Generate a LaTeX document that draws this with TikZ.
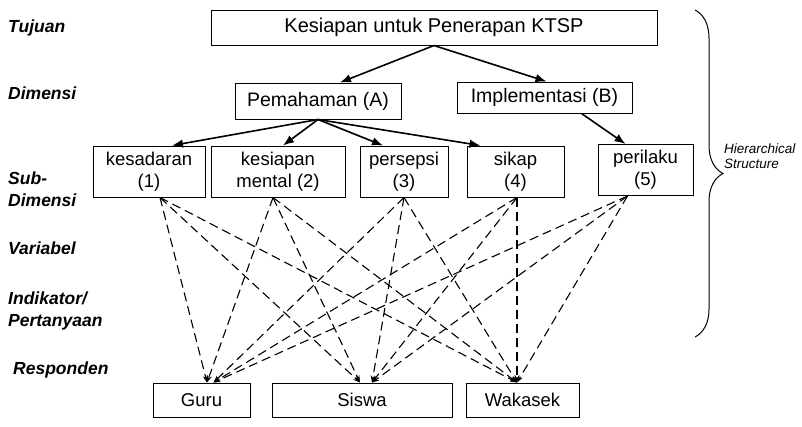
\documentclass[tikz,border=0pt]{standalone}
\usepackage{fontspec}
\setmainfont{Liberation Sans}
\usetikzlibrary{arrows.meta,decorations.pathreplacing}

\begin{document}
\begin{tikzpicture}
  [x=1pt, y=-1pt,
   every node/.style={inner sep=0pt, font=\fontsize{18.5}{22}\selectfont},
   box/.style={draw, line width=1pt, align=center},
   bigbox/.style={box, font=\fontsize{19.5}{22}\selectfont},
   layer/.style={anchor=west, align=left, font=\fontsize{17.5}{22.5}\bfseries\itshape\selectfont},
   solidarr/.style={line width=1.6pt, -{Latex[length=11pt,width=8.5pt]}},
   dasharr/.style={line width=1.1pt, dash pattern=on 9pt off 5pt, -{Stealth[length=7pt,width=5pt]}}]

  \useasboundingbox (0,0) rectangle (802,426);

  \node[layer] (tujuan) at (8,28) {Tujuan};
  \node[layer] (dimensi) at (8,93) {Dimensi};
  \node[layer] (subdim) at (8,189) {Sub-\\Dimensi};
  \node[layer] (variabel) at (8,248) {Variabel};
  \node[layer] (indikator) at (8,311) {Indikator/\\Pertanyaan};
  \node[layer] (responden) at (13,370) {Responden};

  \node[bigbox, minimum width=446pt, minimum height=35pt, font=\fontsize{20}{22}\selectfont] (goal) at (434,27.5) {Kesiapan untuk Penerapan KTSP};

  \node[bigbox, minimum width=166pt, minimum height=36pt] (pem) at (318,101) {Pemahaman (A)};
  \node[bigbox, minimum width=175pt, minimum height=31pt] (imp) at (544.5,97.5) {Implementasi (B)};

  \node[box, minimum width=112pt, minimum height=51pt] (kes) at (149,171.5) {kesadaran\\(1)};
  \node[box, minimum width=134pt, minimum height=51pt] (men) at (278,171.5) {kesiapan\\mental (2)};
  \node[box, minimum width=88pt, minimum height=51pt] (per) at (404,171.5) {persepsi\\(3)};
  \node[box, minimum width=97pt, minimum height=51pt] (sik) at (515.5,171.5) {sikap\\(4)};
  \node[box, minimum width=95pt, minimum height=51pt] (pri) at (645.5,170) {perilaku\\(5)};

  \node[box, minimum width=97pt, minimum height=34pt] (guru) at (201.5,400) {Guru};
  \node[box, minimum width=180pt, minimum height=34pt] (siswa) at (362,400) {Siswa};
  \node[box, minimum width=113pt, minimum height=34pt] (wak) at (522.5,400) {Wakasek};

  \draw[solidarr] (goal.south) -- ([xshift=22pt]pem.north);
  \draw[solidarr] (goal.south) -- ([xshift=2pt]imp.north);
  \draw[solidarr] (pem.south) -- ([xshift=23pt]kes.north);
  \draw[solidarr] (pem.south) -- ([xshift=5pt]men.north);
  \draw[solidarr] (pem.south) -- ([xshift=-21pt]per.north);
  \draw[solidarr] (pem.south) -- ([xshift=-35pt]sik.north);
  \draw[solidarr] ([xshift=37pt]imp.south) -- ([xshift=-20pt]pri.north);

  \draw[dasharr] ([xshift=11pt]kes.south) -- ([xshift=5.5pt]guru.north);
  \draw[dasharr] ([xshift=11pt]kes.south) -- ([xshift=-2pt]siswa.north);
  \draw[dasharr] ([xshift=11pt]kes.south) -- ([xshift=-5.5pt]wak.north);
  \draw[dasharr] ([xshift=-5pt]men.south) -- ([xshift=5.5pt]guru.north);
  \draw[dasharr] ([xshift=-5pt]men.south) -- ([xshift=-2pt]siswa.north);
  \draw[dasharr] ([xshift=-5pt]men.south) -- ([xshift=-5.5pt]wak.north);
  \draw[dasharr] (per.south) -- ([xshift=12pt]guru.north);
  \draw[dasharr] (per.south) -- ([xshift=10pt]siswa.north);
  \draw[dasharr] (per.south) -- ([xshift=-5.5pt]wak.north);
  \draw[dasharr] ([xshift=1.5pt]sik.south) -- ([xshift=12pt]guru.north);
  \draw[dasharr] ([xshift=1.5pt]sik.south) -- ([xshift=10pt]siswa.north);
  \draw[dasharr] ([xshift=1.5pt]sik.south) -- ([xshift=-5.5pt]wak.north);
  \draw[dasharr] ([xshift=-18pt]pri.south) -- ([xshift=12pt]guru.north);
  \draw[dasharr] ([xshift=-18pt]pri.south) -- ([xshift=10pt]siswa.north);
  \draw[dasharr] ([xshift=-18pt]pri.south) -- ([xshift=-5.5pt]wak.north);

  \coordinate (bracetop) at (695,10);
  \coordinate (bracebot) at (695,337);
  \draw[line width=1pt, decorate, decoration={brace, amplitude=28pt}] (bracetop) -- (bracebot);
  \node[anchor=west, align=left, font=\fontsize{13.5}{15}\itshape\selectfont] (hier) at (724,156) {Hierarchical\\Structure};
\end{tikzpicture}
\end{document}
